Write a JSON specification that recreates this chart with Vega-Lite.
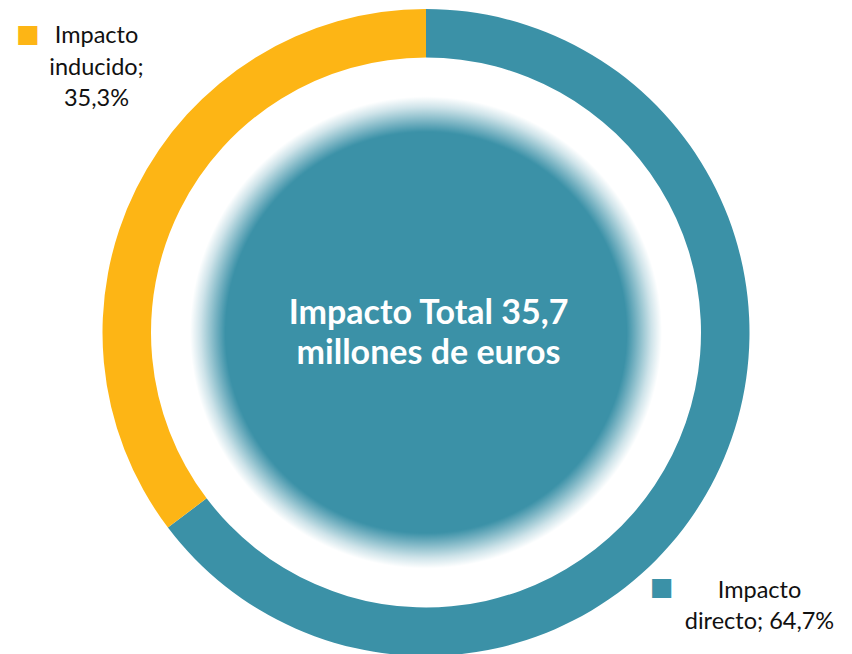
{
  "$schema": "https://vega.github.io/schema/vega-lite/v6.json",
  "width": 852,
  "height": 654,
  "autosize": {"type": "fit", "contains": "padding"},
  "padding": {"top": 11, "left": 0, "right": 0, "bottom": 0},
  "background": "white",
  "config": {"view": {"stroke": null}},
  "data": {
    "values": [
      {"categoria": "Impacto directo", "valor": 64.7, "etiqueta": "Impacto\ndirecto; 64,7%"},
      {"categoria": "Impacto inducido", "valor": 35.3, "etiqueta": "Impacto\ninducido;\n35,3%"}
    ]
  },
  "resolve": {"scale": {"theta": "independent"}},
  "layer": [
    {
      "mark": {"type": "arc", "radius": 323.5, "innerRadius": 275},
      "encoding": {
        "theta": {"field": "valor", "type": "quantitative", "stack": true},
        "color": {
          "field": "categoria",
          "type": "nominal",
          "scale": {"domain": ["Impacto directo", "Impacto inducido"], "range": ["#3B91A7", "#FDB515"]},
          "legend": null
        }
      }
    },
    {
      "data": {"values": [{"total": 35.7}]},
      "mark": {
        "type": "arc",
        "radius": 236,
        "theta": 0,
        "theta2": 6.2832,
        "fill": {
          "gradient": "radial",
          "x1": 0.5, "y1": 0.5, "r1": 0,
          "x2": 0.5, "y2": 0.5, "r2": 0.5,
          "stops": [
            {"offset": 0, "color": "#3B91A7"},
            {"offset": 0.85, "color": "#3B91A7"},
            {"offset": 0.885, "color": "#6CACBD"},
            {"offset": 0.92, "color": "#9DC8D3"},
            {"offset": 0.955, "color": "#CEE3E9"},
            {"offset": 1, "color": "#ffffff"}
          ]
        }
      },
      "encoding": {}
    },
    {
      "data": {"values": [{"total": 35.7}]},
      "mark": {
        "type": "text",
        "text": ["Impacto Total 35,7", "millones de euros"],
        "font": "Lato",
        "fontWeight": "bold",
        "fontSize": 34,
        "lineHeight": 40.5,
        "color": "white",
        "align": "center",
        "baseline": "middle",
        "dx": 2.5,
        "dy": -19
      },
      "encoding": {}
    },
    {
      "mark": {
        "type": "text",
        "radius": 432.3,
        "dx": 2,
        "dy": -19,
        "align": "center",
        "baseline": "middle",
        "font": "Lato",
        "fontSize": 23.5,
        "lineHeight": 31.5,
        "lineBreak": "\n",
        "color": "#111111"
      },
      "encoding": {
        "theta": {"field": "valor", "type": "quantitative", "stack": true, "scale": {"range": [0.2351, 6.5183]}},
        "detail": {"field": "categoria", "type": "nominal"},
        "text": {"field": "etiqueta", "type": "nominal"}
      }
    },
    {
      "mark": {
        "type": "text",
        "text": "■",
        "radius": 420.3,
        "dx": -81,
        "dy": -22,
        "align": "center",
        "baseline": "middle",
        "font": "DejaVu Sans",
        "fontSize": 25
      },
      "encoding": {
        "theta": {"field": "valor", "type": "quantitative", "stack": true, "scale": {"range": [0.2548, 6.538]}},
        "color": {"field": "categoria", "type": "nominal", "legend": null}
      }
    }
  ]
}
